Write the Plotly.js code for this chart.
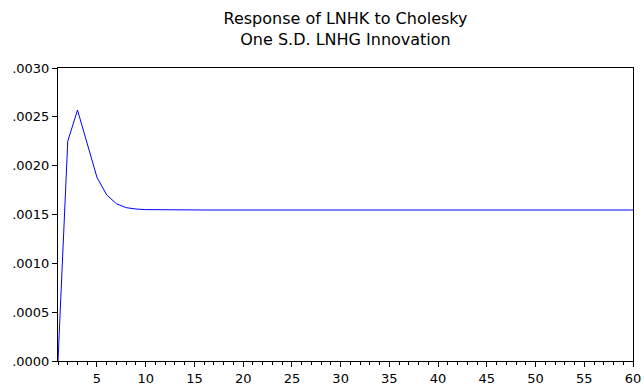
<!DOCTYPE html>
<html><head><meta charset="utf-8">
<script src="https://cdn.plot.ly/plotly-3.0.1.min.js"></script>
<style>html,body{margin:0;padding:0;background:#fff}#chart{width:644px;height:387px}</style>
</head><body><div id="chart"></div>
<script>
const periods = Array.from({length: 60}, (_, i) => i + 1);
const response = [
  0.0000, 0.00225, 0.00257, 0.00223, 0.00188, 0.00170, 0.00161, 0.00157, 0.001556, 0.00155,
  0.001548, 0.001547, 0.001546, 0.001546, 0.001546, 0.001546, 0.001546, 0.001546, 0.001546, 0.001546,
  0.001546, 0.001546, 0.001546, 0.001546, 0.001546, 0.001546, 0.001546, 0.001546, 0.001546, 0.001546,
  0.001546, 0.001546, 0.001546, 0.001546, 0.001546, 0.001546, 0.001546, 0.001546, 0.001546, 0.001546,
  0.001546, 0.001546, 0.001546, 0.001546, 0.001546, 0.001546, 0.001546, 0.001546, 0.001546, 0.001546,
  0.001546, 0.001546, 0.001546, 0.001546, 0.001546, 0.001546, 0.001546, 0.001546, 0.001546, 0.001546
];
const yTickVals = [0, 0.0005, 0.0010, 0.0015, 0.0020, 0.0025, 0.0030];
const yTickText = ['.0000', '.0005', '.0010', '.0015', '.0020', '.0025', '.0030'];
const xTickVals = [5, 10, 15, 20, 25, 30, 35, 40, 45, 50, 55, 60];

const font = {family: '"DejaVu Sans", Arial, sans-serif', size: 13, color: '#000'};
Plotly.newPlot('chart', [{
  x: periods, y: response, type: 'scatter', mode: 'lines',
  line: {color: '#0000ff', width: 1}, hoverinfo: 'skip'
}], {
  width: 644, height: 387,
  margin: {l: 58, r: 11, t: 68, b: 26},
  paper_bgcolor: '#fff', plot_bgcolor: '#fff',
  font: font,
  showlegend: false,
  title: {text: 'Response of LNHK to Cholesky<br>One S.D. LNHG Innovation',
    xref: 'paper', x: 0.5, xanchor: 'center', yref: 'paper', y: 1, yanchor: 'bottom',
    pad: {b: 44}, font: {family: font.family, size: 16, color: '#000'}},
  xaxis: {
    range: [1, 60], tickvals: xTickVals, ticktext: xTickVals.map(String),
    ticks: 'outside', ticklen: 5, tickcolor: '#000', tickwidth: 1,
    minor: {dtick: 1, tick0: 0, ticks: 'outside', ticklen: 3, tickcolor: '#000', tickwidth: 1},
    showline: true, linecolor: '#000', linewidth: 1, mirror: true,
    showgrid: false, zeroline: false, tickfont: font
  },
  yaxis: {
    range: [0, 0.003], tickvals: yTickVals, ticktext: yTickText,
    ticks: 'outside', ticklen: 5, tickcolor: '#000', tickwidth: 1,
    showline: true, linecolor: '#000', linewidth: 1, mirror: true,
    showgrid: false, zeroline: false, tickfont: font
  }
}, {staticPlot: true});
</script></body></html>
